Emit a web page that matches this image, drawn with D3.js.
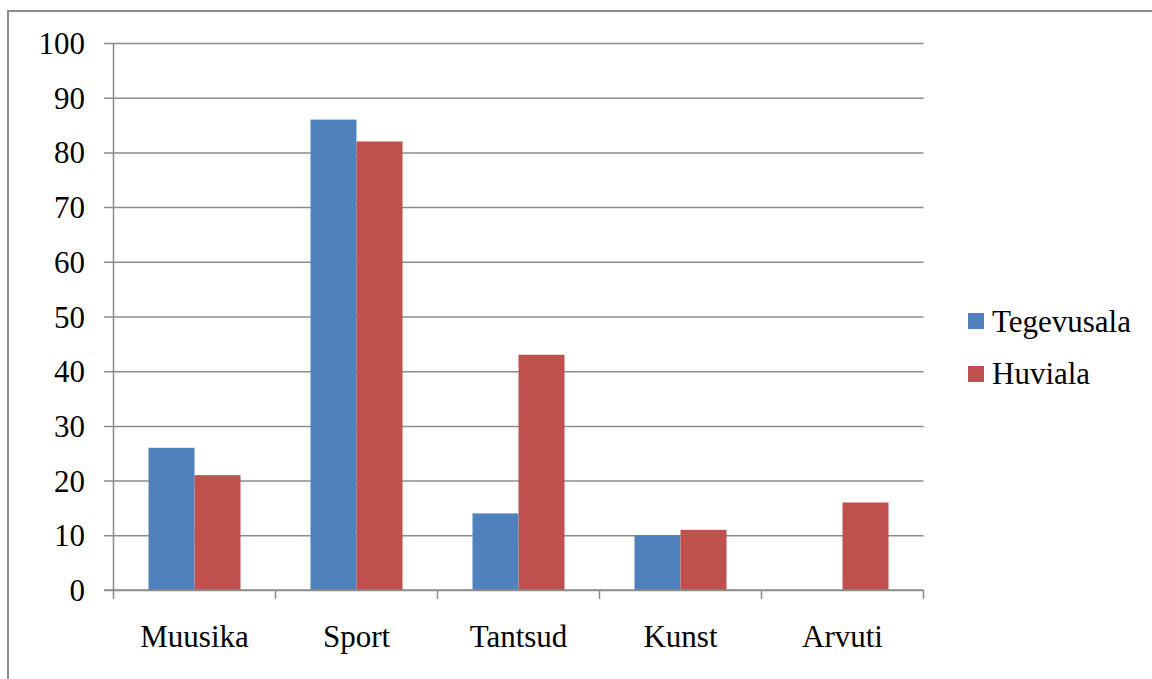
<!DOCTYPE html>
<html><head><meta charset="utf-8">
<script src="https://cdn.jsdelivr.net/npm/d3@7"></script>
<style>body{margin:0;background:#fff;} svg{display:block;}</style>
</head><body>
<svg id="c" width="1152" height="679"></svg>
<script>
const categories = ["Muusika", "Sport", "Tantsud", "Kunst", "Arvuti"];
const seriesNames = ["Tegevusala", "Huviala"];
const tegevusala = [26, 86, 14, 10, 0];
const huviala = [21, 82, 43, 11, 16];
const yTicks = [0, 10, 20, 30, 40, 50, 60, 70, 80, 90, 100];
const colors = ["#4F81BD", "#C0504D"];

const svg = d3.select("#c");
const font = "Liberation Serif";
const L = 113.5, R = 923.5, T = 43, B = 590;

// outer border
svg.append("rect").attr("x", 8).attr("y", 11).attr("width", 1200).attr("height", 700)
  .attr("fill", "none").attr("stroke", "#8c8c8c").attr("stroke-width", 2);

const y = d3.scaleLinear().domain([0, 100]).range([B, T]);
const x = d3.scaleBand().domain(categories).range([L, R]).padding(0);
const xs = d3.scaleBand().domain(seriesNames).range([35, x.bandwidth() - 35]).padding(0);

// gridlines + y labels
const yAxis = d3.axisLeft(y).tickValues(yTicks).tickSize(R - 104).tickPadding(19);
const gy = svg.append("g").attr("transform", `translate(${R},0)`).call(yAxis);
gy.select(".domain").remove();
gy.selectAll(".tick line").attr("stroke", "#8c8c8c").attr("stroke-width", 1.5);
gy.selectAll(".tick text").style("font-family", font).attr("font-size", 31).attr("fill", "#000").attr("dy", "0.34em");

// bars
const data = [tegevusala, huviala];
data.forEach((vals, si) => {
  svg.append("g").selectAll("rect").data(categories).join("rect")
    .attr("x", c => x(c) + xs(seriesNames[si]))
    .attr("width", xs.bandwidth())
    .attr("y", (c, i) => y(vals[i]))
    .attr("height", (c, i) => B - y(vals[i]))
    .attr("fill", colors[si]);
});

// y axis line
svg.append("line").attr("x1", L).attr("x2", L).attr("y1", T).attr("y2", B)
  .attr("stroke", "#8c8c8c").attr("stroke-width", 1.5);
// x axis line
svg.append("line").attr("x1", 104).attr("x2", R).attr("y1", B).attr("y2", B)
  .attr("stroke", "#8c8c8c").attr("stroke-width", 1.5);

// x axis ticks at boundaries + labels
const bounds = categories.map(c => x(c)).concat([x(categories[categories.length - 1]) + x.bandwidth()]);
svg.append("g").selectAll("line").data(bounds).join("line")
  .attr("x1", d => d).attr("x2", d => d).attr("y1", B).attr("y2", B + 9)
  .attr("stroke", "#8c8c8c").attr("stroke-width", 1.5);
const xAxis = d3.axisBottom(x).tickSize(0).tickPadding(0);
const gx = svg.append("g").attr("transform", `translate(0,${B})`).call(xAxis);
gx.select(".domain").remove();
gx.selectAll(".tick text").style("font-family", font).attr("font-size", 31).attr("fill", "#000")
  .attr("y", 57).attr("dy", 0);

// legend
const lg = svg.append("g");
seriesNames.forEach((s, i) => {
  lg.append("rect").attr("x", 968).attr("y", 313 + i * 53).attr("width", 16).attr("height", 16).attr("fill", colors[i]);
  lg.append("text").attr("x", 992).attr("y", 332 + i * 52).style("font-family", font).attr("font-size", 31)
    .attr("fill", "#000").text(s);
});
</script>
</body></html>
